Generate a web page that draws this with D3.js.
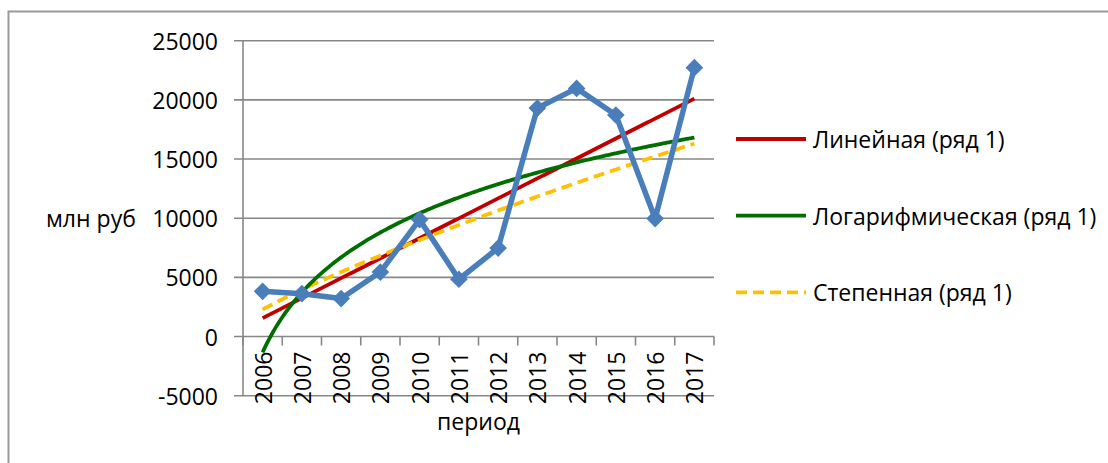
<!DOCTYPE html>
<html>
<head>
<meta charset="utf-8">
<script src="https://cdn.jsdelivr.net/npm/d3@7"></script>
<style>
  html, body { margin: 0; padding: 0; background: #fff; }
  svg { display: block; }
  text { font-family: "Open Sans", "Noto Sans", sans-serif; fill: #000; }
</style>
</head>
<body>
<svg id="chart" width="1108" height="463"></svg>
<script>
// ---- data ----
const categories = ["2006","2007","2008","2009","2010","2011","2012","2013","2014","2015","2016","2017"];
const values = [3820, 3620, 3210, 5450, 9880, 4840, 7480, 19310, 20970, 18720, 9970, 22720];
const yTicks = [-5000, 0, 5000, 10000, 15000, 20000, 25000];
const legendLabels = ["Линейная (ряд 1)", "Логарифмическая (ряд 1)", "Степенная (ряд 1)"];
const yTitle = "млн руб";
const xTitle = "период";

// ---- layout ----
const svg = d3.select("#chart");
const L = 243, R = 714, T = 40.7, B = 395.7;
const fontSize = 23;

const y = d3.scaleLinear().domain([-5000, 25000]).range([B, T]);
const xi = d3.scaleLinear().domain([0.5, categories.length + 0.5]).range([L, R]); // continuous index (1-based)
const xb = d3.scaleBand().domain(categories).range([L, R]);

// outer frame
svg.append("rect").attr("x", 8.5).attr("y", 11.5).attr("width", 1200).attr("height", 1000)
  .attr("fill", "none").attr("stroke", "#9a9a9a").attr("stroke-width", 2);

// gridlines
svg.append("g").selectAll("line").data(yTicks).join("line")
  .attr("x1", L - 9).attr("x2", R).attr("y1", d => y(d)).attr("y2", d => y(d))
  .attr("stroke", "#878787").attr("stroke-width", 1.6);

// y axis line
svg.append("line").attr("x1", L).attr("x2", L).attr("y1", T).attr("y2", B)
  .attr("stroke", "#878787").attr("stroke-width", 1.6);

// y tick labels
svg.append("g").selectAll("text").data(yTicks).join("text")
  .attr("x", 218).attr("y", d => y(d)).attr("text-anchor", "end")
  .attr("dominant-baseline", "central").attr("font-size", fontSize)
  .text(d => d);

// category axis ticks at boundaries (at y=0)
const bounds = d3.range(0.5, categories.length + 1, 1);
svg.append("g").selectAll("line").data(bounds).join("line")
  .attr("x1", d => xi(d)).attr("x2", d => xi(d)).attr("y1", y(0)).attr("y2", y(0) + 9)
  .attr("stroke", "#878787").attr("stroke-width", 1.6);

// category labels (rotated)
svg.append("g").selectAll("text").data(categories).join("text")
  .attr("transform", d => `translate(${xb(d) + xb.bandwidth() / 2},${y(0) + 15}) rotate(-90)`)
  .attr("text-anchor", "end").attr("dominant-baseline", "central")
  .attr("font-size", fontSize).text(d => d);

// axis titles
svg.append("text").attr("x", 46).attr("y", y(10000)).attr("dominant-baseline", "central")
  .attr("font-size", fontSize).text(yTitle);
svg.append("text").attr("x", (L + R) / 2).attr("y", 430).attr("text-anchor", "middle")
  .attr("font-size", fontSize).text(xTitle);

// ---- trendlines (least squares fits of the data, as in the source chart) ----
const n = values.length;
const xs = d3.range(1, n + 1);
function fit(xv, yv) {
  const mx = d3.mean(xv), my = d3.mean(yv);
  const sxy = d3.sum(xv, (d, i) => (d - mx) * (yv[i] - my));
  const sxx = d3.sum(xv, d => (d - mx) * (d - mx));
  const b = sxy / sxx;
  return { a: my - b * mx, b };
}
const lin = fit(xs, values);
const lg = fit(xs.map(Math.log), values);
const pw = fit(xs.map(Math.log), values.map(Math.log));
const samples = d3.range(1, n + 0.001, 0.05);
const line = d3.line().x(d => xi(d[0])).y(d => y(d[1]));

svg.append("path").attr("d", line(samples.map(t => [t, lin.a + lin.b * t])))
  .attr("fill", "none").attr("stroke", "#c00000").attr("stroke-width", 3.8);
svg.append("path").attr("d", line(samples.map(t => [t, Math.exp(pw.a) * Math.pow(t, pw.b)])))
  .attr("fill", "none").attr("stroke", "#ffc000").attr("stroke-width", 3.8)
  .attr("stroke-dasharray", "11,6");
svg.append("path").attr("d", line(samples.map(t => [t, lg.a + lg.b * Math.log(t)])))
  .attr("fill", "none").attr("stroke", "#006e00").attr("stroke-width", 3.8);

// ---- data series ----
const pts = values.map((v, i) => [i + 1, v]);
svg.append("path").attr("d", line(pts)).attr("fill", "none")
  .attr("stroke", "#4a7ebb").attr("stroke-width", 5.5).attr("stroke-linejoin", "round");
svg.append("g").selectAll("path").data(pts).join("path")
  .attr("d", d3.symbol().type(d3.symbolDiamond2).size(200))
  .attr("transform", d => `translate(${xi(d[0])},${y(d[1])})`)
  .attr("fill", "#4a7ebb");

// ---- legend ----
const legendColors = ["#c00000", "#006e00", "#ffc000"];
const legendDash = [null, null, "11,6"];
const legendY = [139, 215.7, 292.3];
const lg2 = svg.append("g");
legendLabels.forEach((lab, i) => {
  lg2.append("line").attr("x1", 736).attr("x2", 806).attr("y1", legendY[i]).attr("y2", legendY[i])
    .attr("stroke", legendColors[i]).attr("stroke-width", 3.8)
    .attr("stroke-dasharray", legendDash[i]);
  lg2.append("text").attr("x", 813).attr("y", legendY[i]).attr("dominant-baseline", "central")
    .attr("font-size", fontSize).text(lab);
});
</script>
</body>
</html>
